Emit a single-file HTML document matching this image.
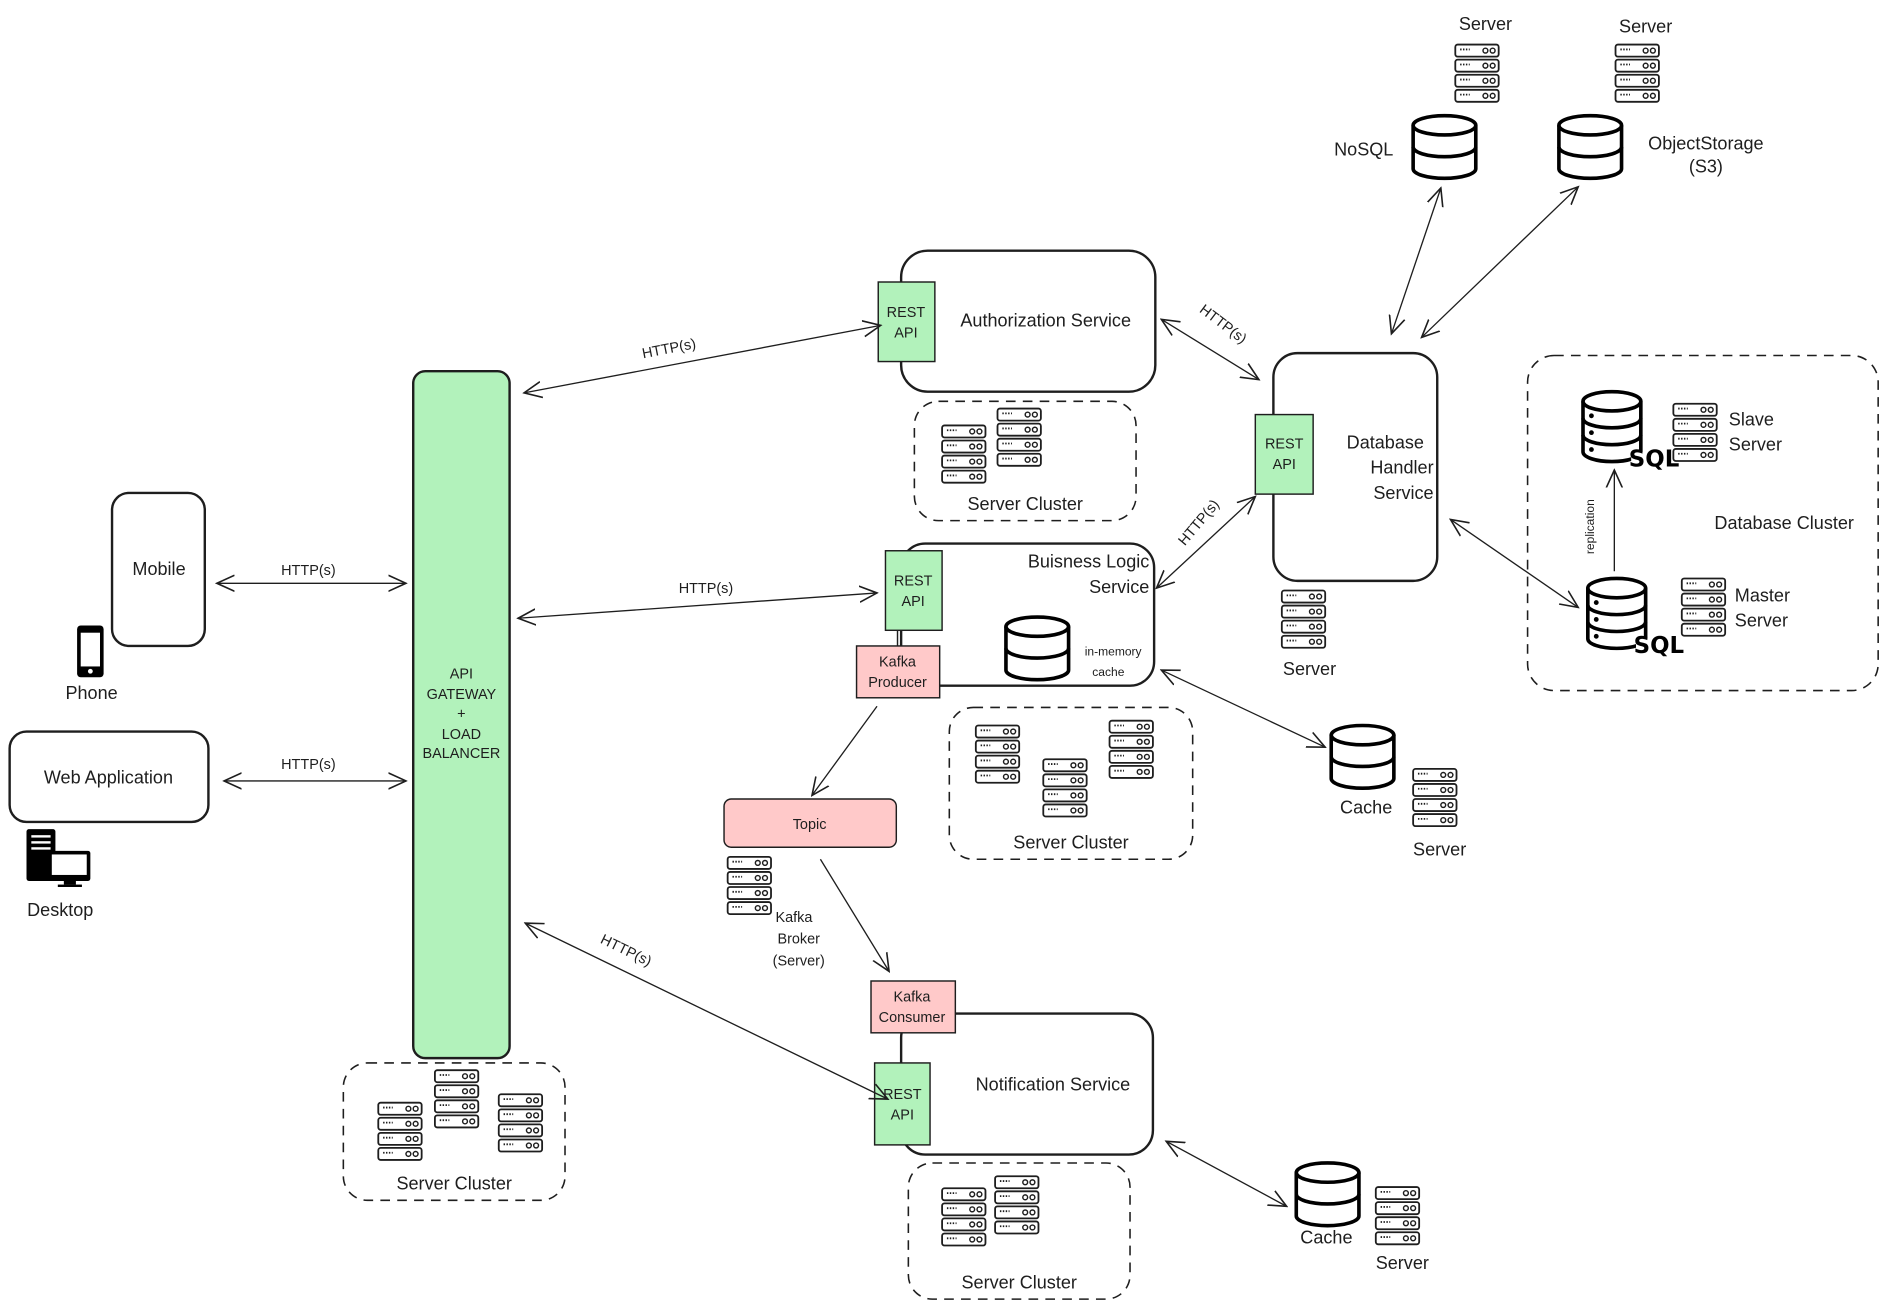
<!DOCTYPE html>
<html><head><meta charset="utf-8"><style>
html,body{margin:0;padding:0;background:#fff;}
svg{display:block;}
text{font-family:"Liberation Sans",sans-serif;fill:#1e1e1e;}
</style></head><body>
<svg width="1889" height="1310" viewBox="0 0 1568 1087" preserveAspectRatio="none" xmlns="http://www.w3.org/2000/svg">
<defs>
<marker id="a" viewBox="0 0 12 12" refX="11" refY="6" markerWidth="16" markerHeight="16" markerUnits="userSpaceOnUse" orient="auto-start-reverse">
<path d="M0,1 L11,6 L0,11" fill="none" stroke="#1e1e1e" stroke-width="1"/>
</marker>
<g id="srv">
<g fill="#fff" stroke="#1e1e1e" stroke-width="1.5">
<rect x="0" y="0" width="36" height="10" rx="2"/>
<rect x="0" y="12.5" width="36" height="10" rx="2"/>
<rect x="0" y="25" width="36" height="10" rx="2"/>
<rect x="0" y="37.5" width="36" height="10" rx="2"/>
</g>
<g fill="none" stroke="#1e1e1e" stroke-width="1.2">
<circle cx="25" cy="5" r="2"/><circle cx="31" cy="5" r="2"/>
<circle cx="25" cy="17.5" r="2"/><circle cx="31" cy="17.5" r="2"/>
<circle cx="25" cy="30" r="2"/><circle cx="31" cy="30" r="2"/>
<circle cx="25" cy="42.5" r="2"/><circle cx="31" cy="42.5" r="2"/>
</g>
<g stroke="#1e1e1e" stroke-width="1.5" stroke-dasharray="1.2 1.2">
<line x1="4" y1="4" x2="12" y2="4"/><line x1="4" y1="16.5" x2="12" y2="16.5"/><line x1="4" y1="29" x2="12" y2="29"/><line x1="4" y1="41.5" x2="12" y2="41.5"/>
</g>
</g>
<g id="cyl" fill="#fff" stroke="#000" stroke-width="3">
<path d="M0,8 A26,8 0 0 1 52,8 L52,44 A26,8 0 0 1 0,44 Z"/>
<path d="M0,8 A26,8 0 0 0 52,8" fill="none"/>
<path d="M0,26 A26,8 0 0 0 52,26" fill="none"/>
</g>
<g id="sql">
<g fill="#fff" stroke="#000" stroke-width="3">
<path d="M0,8 A24,8 0 0 1 48,8 L48,50 A24,8 0 0 1 0,50 Z"/>
<path d="M0,8 A24,8 0 0 0 48,8" fill="none"/>
<path d="M0,22 A24,8 0 0 0 48,22" fill="none"/>
<path d="M0,36 A24,8 0 0 0 48,36" fill="none"/>
</g>
<circle cx="7" cy="20" r="2"/><circle cx="7" cy="34" r="2"/><circle cx="7" cy="48" r="2"/>
<rect x="40" y="50" width="14" height="12" fill="#fff"/>
<text x="38" y="62" style="font-family:'DejaVu Sans',sans-serif;font-weight:bold;font-size:19px;fill:#000">SQL</text>
</g>
</defs>

<g fill="none" stroke="#1e1e1e" stroke-width="2">
<!-- boxes -->
<rect x="93" y="409" width="77" height="127" rx="14"/>
<rect x="8" y="607" width="165" height="75" rx="14"/>
<rect x="343" y="308" width="80" height="570" rx="10" fill="#b2f2bb"/>
<rect x="748" y="208" width="211" height="117" rx="22"/>
<rect x="748" y="451" width="210" height="118" rx="20"/>
<rect x="748" y="841" width="209" height="117" rx="20"/>
<rect x="1057" y="293" width="136" height="189" rx="20"/>
</g>
<g fill="none" stroke="#1e1e1e" stroke-width="1.3" stroke-dasharray="8 6">
<rect x="285" y="882" width="184" height="114" rx="20"/>
<rect x="759" y="333" width="184" height="99" rx="20"/>
<rect x="788" y="587" width="202" height="126" rx="20"/>
<rect x="754" y="965" width="184" height="113" rx="20"/>
<rect x="1268" y="295" width="291" height="278" rx="22"/>
</g>

<!-- small green/pink boxes -->
<g stroke="#1e1e1e" stroke-width="1.2">
<rect x="729" y="234" width="47" height="66" fill="#b2f2bb"/>
<rect x="735" y="457" width="47" height="66" fill="#b2f2bb"/>
<rect x="726" y="882" width="46" height="68" fill="#b2f2bb"/>
<rect x="1042" y="344" width="48" height="66" fill="#b2f2bb"/>
<line x1="745" y1="523" x2="745" y2="536"/>
<rect x="711" y="536" width="69" height="43" fill="#ffc9c9"/>
<rect x="723" y="814" width="70" height="43" fill="#ffc9c9"/>
<rect x="601" y="663" width="143" height="40" rx="6" fill="#ffc9c9"/>
</g>

<!-- arrows -->
<g stroke="#1e1e1e" stroke-width="1.1" fill="none">
<line x1="180" y1="484" x2="337" y2="484" marker-start="url(#a)" marker-end="url(#a)"/>
<line x1="186" y1="648" x2="337" y2="648" marker-start="url(#a)" marker-end="url(#a)"/>
<line x1="435" y1="326" x2="731" y2="270" marker-start="url(#a)" marker-end="url(#a)"/>
<line x1="430" y1="513" x2="728" y2="492" marker-start="url(#a)" marker-end="url(#a)"/>
<line x1="436" y1="766" x2="737" y2="912" marker-start="url(#a)" marker-end="url(#a)"/>
<line x1="964" y1="265" x2="1045" y2="315" marker-start="url(#a)" marker-end="url(#a)"/>
<line x1="960" y1="488" x2="1042" y2="412" marker-start="url(#a)" marker-end="url(#a)"/>
<line x1="964" y1="556" x2="1100" y2="620" marker-start="url(#a)" marker-end="url(#a)"/>
<line x1="968" y1="947" x2="1068" y2="1001" marker-start="url(#a)" marker-end="url(#a)"/>
<line x1="1204" y1="431" x2="1310" y2="504" marker-start="url(#a)" marker-end="url(#a)"/>
<line x1="1196" y1="156" x2="1155" y2="277" marker-start="url(#a)" marker-end="url(#a)"/>
<line x1="1310" y1="155" x2="1180" y2="280" marker-start="url(#a)" marker-end="url(#a)"/>
<line x1="728" y1="586" x2="674" y2="660" marker-end="url(#a)"/>
<line x1="681" y1="713" x2="738" y2="806" marker-end="url(#a)"/>
<line x1="1340" y1="474" x2="1340" y2="390" marker-end="url(#a)"/>
</g>

<!-- servers -->
<use href="#srv" x="314" y="915"/><use href="#srv" x="361" y="888"/><use href="#srv" x="414" y="908"/>
<use href="#srv" x="782" y="353"/><use href="#srv" x="828" y="339"/>
<use href="#srv" x="810" y="602"/><use href="#srv" x="866" y="630"/><use href="#srv" x="921" y="598"/>
<use href="#srv" x="782" y="986"/><use href="#srv" x="826" y="976"/>
<use href="#srv" x="604" y="711"/>
<use href="#srv" x="1064" y="490"/>
<use href="#srv" x="1173" y="638"/>
<use href="#srv" x="1142" y="985"/>
<use href="#srv" x="1208" y="37"/><use href="#srv" x="1341" y="37"/>
<use href="#srv" x="1389" y="335"/><use href="#srv" x="1396" y="480"/>

<!-- cylinders -->
<use href="#cyl" x="835" y="512"/>
<use href="#cyl" x="1105" y="602"/>
<use href="#cyl" x="1076" y="965"/>
<use href="#cyl" x="1173" y="96"/>
<use href="#cyl" x="1294" y="96"/>
<use href="#sql" x="1314" y="325"/>
<use href="#sql" x="1318" y="480"/>

<!-- phone -->
<rect x="64" y="519" width="22" height="43" rx="3" fill="#000"/>
<rect x="67" y="525" width="16" height="28" fill="#fff"/>
<circle cx="75" cy="557" r="2" fill="#fff"/>
<!-- desktop -->
<rect x="22" y="688" width="24" height="43" rx="2" fill="#000"/>
<rect x="26" y="693" width="16" height="2" fill="#fff"/><rect x="26" y="698" width="16" height="2" fill="#fff"/><rect x="26" y="703" width="16" height="2" fill="#fff"/>
<rect x="40" y="706" width="35" height="25" rx="2" fill="#000"/>
<rect x="43" y="709" width="29" height="17" fill="#fff"/>
<rect x="53" y="731" width="10" height="3" fill="#000"/><rect x="48" y="734" width="20" height="2" fill="#000"/>

<!-- text -->
<g font-size="15" text-anchor="middle">
<text x="132" y="477">Mobile</text>
<text x="76" y="580">Phone</text>
<text x="90" y="650">Web Application</text>
<text x="50" y="760">Desktop</text>
<text x="377" y="987">Server Cluster</text>
<text x="851" y="423">Server Cluster</text>
<text x="889" y="704">Server Cluster</text>
<text x="846" y="1069">Server Cluster</text>
<text x="868" y="271">Authorization Service</text>
<text x="874" y="905">Notification Service</text>
<text x="1087" y="560">Server</text>
<text x="1134" y="675">Cache</text>
<text x="1195" y="710">Server</text>
<text x="1101" y="1032">Cache</text>
<text x="1164" y="1053">Server</text>
<text x="1233" y="25">Server</text>
<text x="1366" y="27">Server</text>
<text x="1132" y="129">NoSQL</text>
<text x="1416" y="124">ObjectStorage</text>
<text x="1416" y="143">(S3)</text>
<text x="1481" y="439">Database Cluster</text>
</g>
<g font-size="15" text-anchor="end">
<text x="954" y="471">Buisness Logic</text>
<text x="954" y="492">Service</text>
<text x="1182" y="372">Database</text>
<text x="1190" y="393">Handler</text>
<text x="1190" y="414">Service</text>
</g>
<g font-size="15" text-anchor="start">
<text x="1435" y="353">Slave</text>
<text x="1435" y="374">Server</text>
<text x="1440" y="499">Master</text>
<text x="1440" y="520">Server</text>
</g>
<g font-size="12" text-anchor="middle">
<text x="383" y="563">API</text>
<text x="383" y="580">GATEWAY</text>
<text x="383" y="596">+</text>
<text x="383" y="613">LOAD</text>
<text x="383" y="629">BALANCER</text>
<text x="752" y="263">REST</text><text x="752" y="280">API</text>
<text x="758" y="486">REST</text><text x="758" y="503">API</text>
<text x="749" y="912">REST</text><text x="749" y="929">API</text>
<text x="1066" y="372">REST</text><text x="1066" y="389">API</text>
<text x="745" y="553">Kafka</text><text x="745" y="570">Producer</text>
<text x="757" y="831">Kafka</text><text x="757" y="848">Consumer</text>
<text x="672" y="688">Topic</text>
<text x="659" y="765">Kafka</text><text x="663" y="783">Broker</text><text x="663" y="801">(Server)</text>
<text x="256" y="477">HTTP(s)</text>
<text x="256" y="638">HTTP(s)</text>
<text x="586" y="492">HTTP(s)</text>
<text transform="translate(556,293) rotate(-11)">HTTP(s)</text>
<text transform="translate(518,792) rotate(26)">HTTP(s)</text>
<text transform="translate(1013,272) rotate(37)">HTTP(s)</text>
<text transform="translate(998,436) rotate(-50)">HTTP(s)</text>
</g>
<g font-size="10" text-anchor="middle">
<text x="924" y="544">in-memory</text>
<text x="920" y="561">cache</text>
<text transform="translate(1323,437) rotate(-90)">replication</text>
</g>
</svg>
</body></html>
